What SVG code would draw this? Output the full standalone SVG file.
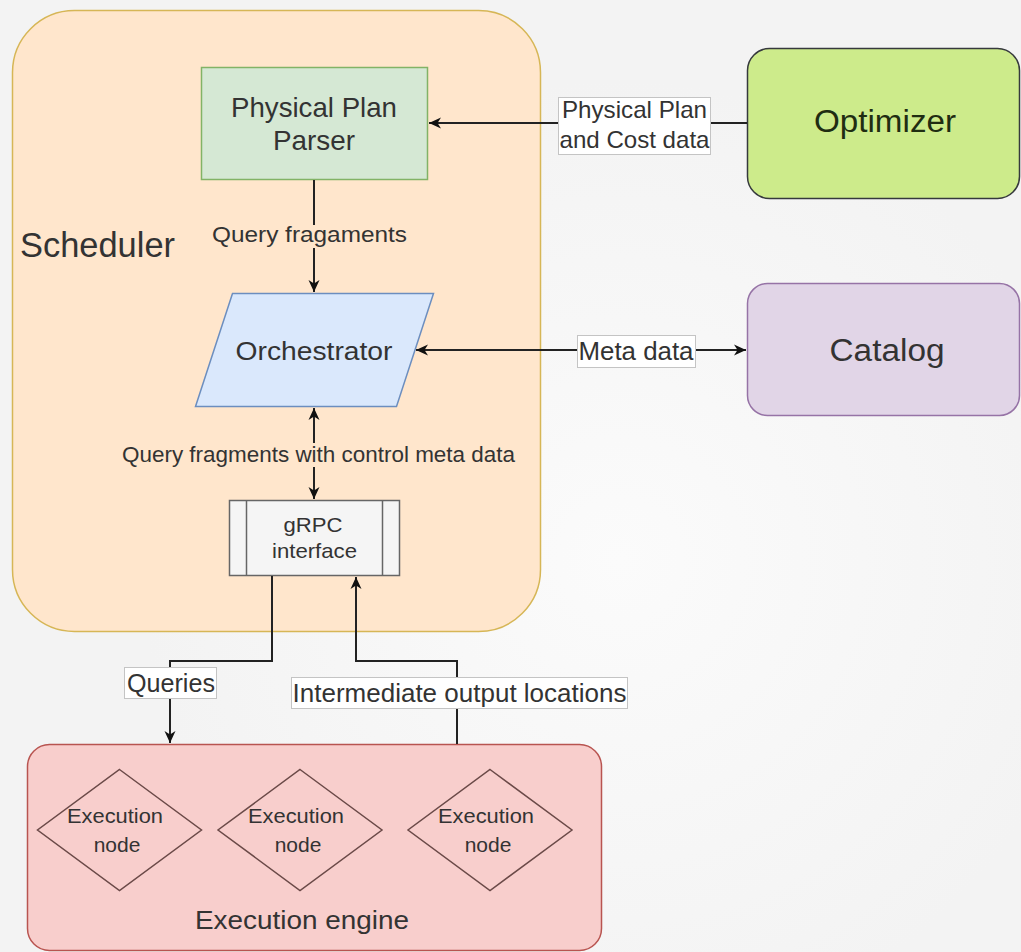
<svg xmlns="http://www.w3.org/2000/svg" width="1021" height="952" viewBox="0 0 1021 952">
<style>
text{font-family:"Liberation Sans",Arial,Helvetica,sans-serif;fill:#333333;text-anchor:middle}
.conn{fill:none;stroke:#222222;stroke-width:2}
.lbl{fill:#ffffff;stroke:#c4c4c4;stroke-width:1}
.box{stroke-width:1.5}
</style>
<defs>
<radialGradient id="bg" cx="620" cy="560" r="480" gradientUnits="userSpaceOnUse">
<stop offset="0" stop-color="#fbfbfb"/>
<stop offset="1" stop-color="#f3f3f3"/>
</radialGradient>
<marker id="arr" markerUnits="userSpaceOnUse" markerWidth="14" markerHeight="13" refX="12" refY="6.5" orient="auto-start-reverse">
<path d="M0,1 L12,6.5 L0,12 L3.5,6.5 Z" fill="#111111"/>
</marker>
</defs>
<rect x="0" y="0" width="1021" height="952" fill="url(#bg)"/>

<g id="scheduler">
<rect class="box" x="12.5" y="10.5" width="528" height="621" rx="62" fill="#ffe6cc" stroke="#d6b656"/>
<text x="20" y="257" font-size="35" style="text-anchor:start" textLength="155" lengthAdjust="spacingAndGlyphs">Scheduler</text>
</g>

<g id="optimizer">
<rect class="box" x="747.5" y="48.5" width="272" height="150" rx="22" fill="#cdeb8b" stroke="#36393d"/>
<text x="885" y="132" font-size="31" style="fill:#1f2d12" textLength="142" lengthAdjust="spacingAndGlyphs">Optimizer</text>
</g>

<g id="catalog">
<rect class="box" x="747.5" y="283.5" width="272" height="132" rx="20" fill="#e1d5e7" stroke="#9673a6"/>
<text x="887" y="361" font-size="31" textLength="115" lengthAdjust="spacingAndGlyphs">Catalog</text>
</g>

<g id="parser">
<rect class="box" x="201.5" y="67.5" width="226" height="112" fill="#d5e8d4" stroke="#82b366"/>
<text x="314" y="117" font-size="28" textLength="166" lengthAdjust="spacingAndGlyphs">Physical Plan</text>
<text x="314" y="150" font-size="28" textLength="82" lengthAdjust="spacingAndGlyphs">Parser</text>
</g>

<g id="orchestrator">
<polygon class="box" points="232.5,293.5 433.5,293.5 396.5,406.5 195.5,406.5" fill="#dae8fc" stroke="#6c8ebf"/>
<text x="314" y="360" font-size="26" textLength="157" lengthAdjust="spacingAndGlyphs">Orchestrator</text>
</g>

<g id="grpc">
<rect class="box" x="229.5" y="500.5" width="170" height="75" fill="#f5f5f5" stroke="#666666"/>
<line x1="246.5" y1="500.5" x2="246.5" y2="575.5" stroke="#666666" stroke-width="1.5"/>
<line x1="382.5" y1="500.5" x2="382.5" y2="575.5" stroke="#666666" stroke-width="1.5"/>
<text x="313" y="532" font-size="21" textLength="59" lengthAdjust="spacingAndGlyphs">gRPC</text>
<text x="314.5" y="558" font-size="21" textLength="85" lengthAdjust="spacingAndGlyphs">interface</text>
</g>

<g id="engine">
<rect class="box" x="27.5" y="744.5" width="574" height="206" rx="22" fill="#f8cecc" stroke="#b85450"/>
<text x="302" y="929" font-size="26" textLength="214" lengthAdjust="spacingAndGlyphs">Execution engine</text>
</g>

<g id="exec-node-1">
<polygon class="box" points="119.5,769.5 201.5,830 119.5,890.5 37.5,830" fill="#f8cecc" stroke="#6b4a48"/>
<text x="115" y="823" font-size="21" textLength="96" lengthAdjust="spacingAndGlyphs">Execution</text>
<text x="117" y="852" font-size="21">node</text>
</g>
<g id="exec-node-2">
<polygon class="box" points="300,769.5 382,830 300,890.5 218,830" fill="#f8cecc" stroke="#6b4a48"/>
<text x="296" y="823" font-size="21" textLength="96" lengthAdjust="spacingAndGlyphs">Execution</text>
<text x="298" y="852" font-size="21">node</text>
</g>
<g id="exec-node-3">
<polygon class="box" points="490,769.5 572,830 490,890.5 408,830" fill="#f8cecc" stroke="#6b4a48"/>
<text x="486" y="823" font-size="21" textLength="96" lengthAdjust="spacingAndGlyphs">Execution</text>
<text x="488" y="852" font-size="21">node</text>
</g>

<g id="connectors">
<path class="conn" d="M747,123 H429" marker-end="url(#arr)"/>
<path class="conn" d="M314,180 V292" marker-end="url(#arr)"/>
<path class="conn" d="M314,408 V499" marker-start="url(#arr)" marker-end="url(#arr)"/>
<path class="conn" d="M416,350 H746" marker-start="url(#arr)" marker-end="url(#arr)"/>
<path class="conn" d="M272,576 V661 H170 V743" marker-end="url(#arr)"/>
<path class="conn" d="M457,744 V661 H356 V577" marker-end="url(#arr)"/>

<rect class="lbl" x="558.5" y="97.5" width="152" height="57"/>
<text x="634.5" y="118" font-size="24" textLength="145" lengthAdjust="spacingAndGlyphs">Physical Plan</text>
<text x="634.5" y="148" font-size="24" textLength="150" lengthAdjust="spacingAndGlyphs">and Cost data</text>

<rect x="210" y="225" width="200" height="23" fill="#ffe6cc"/>
<text x="309.5" y="242" font-size="22" textLength="195" lengthAdjust="spacingAndGlyphs">Query fragaments</text>

<rect x="119" y="443" width="399" height="24" fill="#ffe6cc"/>
<text x="318.5" y="462" font-size="22" textLength="393" lengthAdjust="spacingAndGlyphs">Query fragments with control meta data</text>

<rect class="lbl" x="577.5" y="335.5" width="118" height="32"/>
<text x="636" y="360" font-size="25" textLength="115" lengthAdjust="spacingAndGlyphs">Meta data</text>

<rect class="lbl" x="124.5" y="667.5" width="92" height="31"/>
<text x="171" y="692" font-size="25" textLength="88" lengthAdjust="spacingAndGlyphs">Queries</text>

<rect class="lbl" x="291.5" y="677.5" width="336" height="31"/>
<text x="459.5" y="702" font-size="25" textLength="334" lengthAdjust="spacingAndGlyphs">Intermediate output locations</text>
</g>
</svg>
